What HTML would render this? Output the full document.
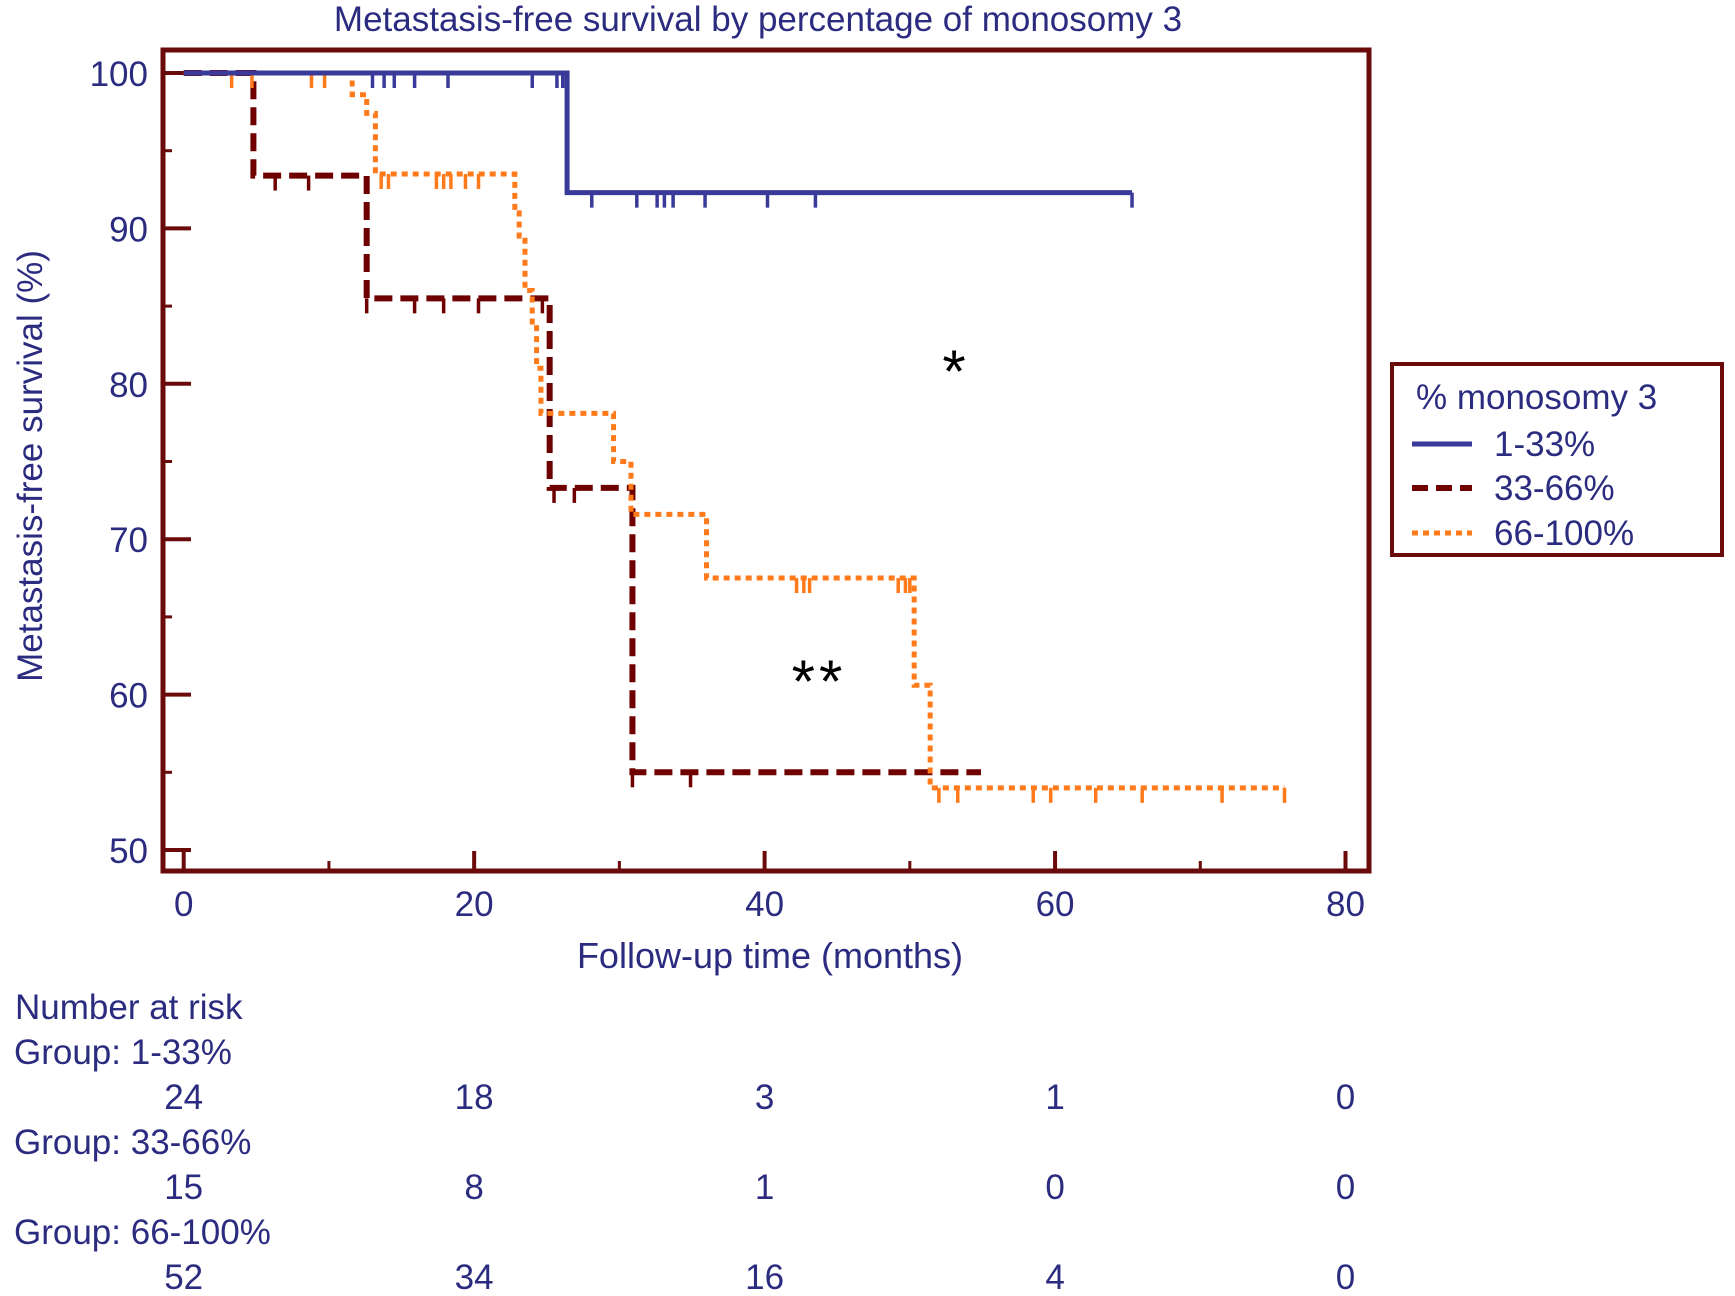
<!DOCTYPE html>
<html><head><meta charset="utf-8">
<style>
html,body{margin:0;padding:0;background:#fff;}
svg{display:block;font-family:"Liberation Sans",sans-serif;}
</style></head>
<body>
<svg id="chart" width="1735" height="1296" viewBox="0 0 1735 1296" xmlns="http://www.w3.org/2000/svg">
<text x="758" y="31" font-size="35" fill="#2b2b80" text-anchor="middle">Metastasis-free survival by percentage of monosomy 3</text>
<text transform="translate(42,466) rotate(-90)" font-size="35" fill="#2b2b80" text-anchor="middle">Metastasis-free survival (%)</text>
<text x="770" y="968" font-size="36" fill="#2b2b80" text-anchor="middle">Follow-up time (months)</text>
<g id="axes"></g>
<g id="series"></g>
<rect x="163" y="50" width="1206" height="821" fill="none" stroke="#6b0a0a" stroke-width="5"/>
<text x="954" y="392" font-size="60" fill="#000" text-anchor="middle">*</text>
<text x="819" y="702" font-size="60" fill="#000" text-anchor="middle" letter-spacing="4">**</text>
<g>
<rect x="1392" y="364" width="330" height="191" fill="#fff" stroke="#6b0a0a" stroke-width="4"/>
<text x="1416" y="409" font-size="35" fill="#2b2b80">% monosomy 3</text>
<line x1="1412" y1="444" x2="1472" y2="444" stroke="#3a3a9a" stroke-width="5"/>
<text x="1494" y="456" font-size="35" fill="#2b2b80">1-33%</text>
<line x1="1412" y1="488" x2="1472" y2="488" stroke="#6e0000" stroke-width="6" stroke-dasharray="16,8"/>
<text x="1494" y="500" font-size="35" fill="#2b2b80">33-66%</text>
<line x1="1412" y1="533" x2="1472" y2="533" stroke="#ff7a1a" stroke-width="5" stroke-dasharray="6,5"/>
<text x="1494" y="545" font-size="35" fill="#2b2b80">66-100%</text>
</g>
<g id="risk"></g>
</svg>
<script>
const xTicks=[0,20,40,60,80];
const yTicks=[50,60,70,80,90,100];
const blueSteps=[[0,100],[26.4,92.3]];
const blueEnd=65.3;
const blueCens=[[13.0,100],[13.8,100],[14.5,100],[15.9,100],[18.2,100],[24.0,100],[25.7,100],[26.1,100],[28.1,92.3],[31.2,92.3],[32.6,92.3],[33.1,92.3],[33.7,92.3],[35.9,92.3],[40.2,92.3],[43.5,92.3],[65.3,92.3]];
const redSteps=[[0,100],[4.8,93.4],[12.6,85.5],[25.2,73.3],[30.9,55.0]];
const redEnd=54.9;
const redCens=[[6.3,93.4],[8.6,93.4],[12.6,85.5],[15.9,85.5],[17.9,85.5],[20.3,85.5],[24.7,85.5],[25.5,73.3],[26.9,73.3],[30.9,55.0],[34.9,55.0]];
const orSteps=[[0,100],[11.6,98.6],[12.6,97.4],[13.2,93.5],[22.8,91.0],[23.1,89.5],[23.5,86.0],[24.0,83.8],[24.3,81.0],[24.6,78.1],[29.6,75.0],[30.8,71.6],[36.0,67.5],[50.3,60.6],[51.4,54.0]];
const orEnd=75.8;
const orCens=[[3.3,100],[4.7,100],[8.8,100],[9.7,100],[13.6,93.5],[14.1,93.5],[17.4,93.5],[17.9,93.5],[18.4,93.5],[19.4,93.5],[20.3,93.5],[42.2,67.5],[42.7,67.5],[43.1,67.5],[49.2,67.5],[49.7,67.5],[50.0,67.5],[52.0,54.0],[53.3,54.0],[58.5,54.0],[59.7,54.0],[62.8,54.0],[66.0,54.0],[71.5,54.0],[75.8,54.0]];
const riskGroups=["Group: 1-33%","Group: 33-66%","Group: 66-100%"];
const risk1=[24,18,3,1,0];
const risk2=[15,8,1,0,0];
const risk3=[52,34,16,4,0];

const NS="http://www.w3.org/2000/svg";
const X=m=>183.7+m*(1345.5-183.7)/80;
const Y=v=>73+(100-v)*(850-73)/50;
function mk(tag,attrs,parent){const e=document.createElementNS(NS,tag);for(const k in attrs)e.setAttribute(k,attrs[k]);parent.appendChild(e);return e;}
const axes=document.getElementById('axes');
for(let v=50;v<=100;v+=5){
  const major=v%10===0;
  const t=mk('line',{x1:163,x2:163+(major?28:9),y1:Y(v),y2:Y(v),stroke:'#6b0a0a','stroke-width':major?4:3},axes);
  
  
}
yTicks.forEach(v=>{
  const t=mk('text',{x:148,y:Y(v)+13,'font-size':35,fill:'#2b2b80','text-anchor':'end'},axes);t.textContent=v;
  
  
});
for(let m=0;m<=80;m+=10){
  const major=m%20===0;
  const t=mk('line',{x1:X(m),x2:X(m),y1:871,y2:871-(major?20:10),stroke:'#6b0a0a','stroke-width':major?4:3},axes);
  
  
}
xTicks.forEach(m=>{
  const t=mk('text',{x:X(m),y:916,'font-size':35,fill:'#2b2b80','text-anchor':'middle'},axes);t.textContent=m;
  
  
});
const series=document.getElementById('series');
function drawSeries(steps,end,cens,color,w,dash,name){
  let d='M'+X(steps[0][0])+','+Y(steps[0][1]);
  for(let i=1;i<steps.length;i++){d+=' H'+X(steps[i][0])+' V'+Y(steps[i][1]);}
  d+=' H'+X(end);
  const p=mk('path',{d:d,fill:'none',stroke:color,'stroke-width':w,'stroke-dasharray':dash},series);
  
  
  cens.forEach(c=>{
    const l=mk('line',{x1:X(c[0]),x2:X(c[0]),y1:Y(c[1]),y2:Y(c[1])+15,stroke:color,'stroke-width':3.5},series);
    
    
  });
}
drawSeries(redSteps,redEnd,redCens,'#6e0000',6,'18,8','group-33-66');
drawSeries(orSteps,orEnd,orCens,'#ff7a1a',5,'6,5','group-66-100');
drawSeries(blueSteps,blueEnd,blueCens,'#3a3a9a',5,'none','group-1-33');
const risk=document.getElementById('risk');
const h=mk('text',{x:15,y:1019,'font-size':35,fill:'#2b2b80'},risk);h.textContent='Number at risk';


[risk1,risk2,risk3].forEach((arr,g)=>{
  const gy=1064+g*90;
  const gt=mk('text',{x:14,y:gy,'font-size':35,fill:'#2b2b80'},risk);gt.textContent=riskGroups[g];
  
  
  arr.forEach((n,i)=>{
    const t=mk('text',{x:X(xTicks[i]),y:gy+45,'font-size':35,fill:'#2b2b80','text-anchor':'middle'},risk);t.textContent=n;
    
    
  });
});
</script>
</body></html>
